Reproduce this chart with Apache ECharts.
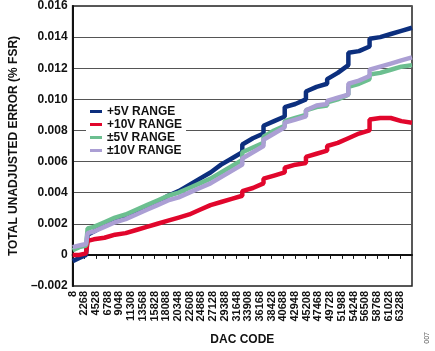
<!DOCTYPE html>
<html>
<head>
<meta charset="utf-8">
<script src="https://cdn.jsdelivr.net/npm/echarts@6/dist/echarts.min.js"></script>
<style>
html, body { margin: 0; padding: 0; background: #fff; }
#chart { width: 435px; height: 351px; }
</style>
</head>
<body>
<div id="chart"></div>
<script>
var codes = [8,1300,2600,2900,4096,6144,8192,10240,12288,14336,16384,18432,20480,22528,24576,26624,28672,30720,32767,32768,34816,36863,36864,38912,40959,40960,43008,45055,45056,47104,49151,49152,51200,53247,53248,55296,57343,57344,59392,61440,63488,65535];

var plus5 = [-0.0004,-0.0002,0.0000,0.0013,0.0015,0.0019,0.0022,0.0025,0.0028,0.0031,0.0034,0.0038,0.0041,0.0045,0.0049,0.0053,0.0058,0.0062,0.0066,0.0071,0.0075,0.0078,0.0083,0.0086,0.0089,0.0095,0.0097,0.0100,0.0105,0.0108,0.0110,0.0113,0.0117,0.0122,0.0130,0.0131,0.0134,0.0139,0.0140,0.0142,0.0144,0.0146];
var plus10 = [0.0000,0.0000,0.0001,0.0009,0.0010,0.0011,0.0013,0.0014,0.0016,0.0018,0.0020,0.0022,0.0024,0.0026,0.0029,0.0032,0.0034,0.0036,0.0038,0.0041,0.0043,0.0046,0.0049,0.0051,0.0053,0.0056,0.0058,0.0059,0.0063,0.0065,0.0067,0.0070,0.0072,0.0075,0.0075,0.0078,0.0080,0.0087,0.0088,0.0088,0.0086,0.0085];
var pm5 = [0.0003,0.0005,0.0006,0.0017,0.0018,0.0021,0.0024,0.0026,0.0029,0.0032,0.0035,0.0038,0.0040,0.0043,0.0046,0.0049,0.0053,0.0057,0.0061,0.0066,0.0069,0.0072,0.0076,0.0080,0.0083,0.0086,0.0088,0.0090,0.0093,0.0095,0.0096,0.0098,0.0100,0.0103,0.0108,0.0110,0.0113,0.0116,0.0117,0.0119,0.0121,0.0122];
var pm10 = [0.0005,0.0006,0.0007,0.0014,0.0015,0.0018,0.0021,0.0023,0.0026,0.0029,0.0032,0.0035,0.0037,0.0040,0.0043,0.0046,0.0050,0.0054,0.0058,0.0062,0.0066,0.0070,0.0074,0.0078,0.0082,0.0085,0.0087,0.0089,0.0093,0.0096,0.0097,0.0099,0.0101,0.0103,0.0110,0.0112,0.0115,0.0119,0.0121,0.0123,0.0125,0.0127];

var xTicks = [8,2268,4528,6788,9048,11308,13568,15828,18088,20348,22608,24868,27128,29388,31648,33908,36168,38428,40688,42948,45208,47468,49728,51988,54248,56508,58768,61028,63288];

var names = ['+5V RANGE', '+10V RANGE', '\u00b15V RANGE', '\u00b110V RANGE'];
var colors = ['#0c2f7e', '#e1062c', '#6cbf90', '#ab9fd4'];

var font = '"Liberation Sans", Arial, sans-serif';

function pairs(vals) {
    return codes.map(function (c, i) { return [c, vals[i]]; });
}

var myChart = echarts.init(document.getElementById('chart'));
var option = {
    animation: false,
    textStyle: { fontFamily: font },
    grid: {
        left: 58, right: 23, top: 6, bottom: 63,
        show: true, borderColor: '#222', borderWidth: 1.5
    },
    legend: {
        orient: 'vertical',
        left: 86, top: 104,
        data: names,
        icon: 'rect',
        itemWidth: 12, itemHeight: 3, itemGap: 0,
        padding: [1, 4, 2, 4],
        backgroundColor: '#fff',
        textStyle: { fontSize: 12, fontWeight: 'bold', color: '#111', lineHeight: 13, fontFamily: font }
    },
    xAxis: {
        type: 'value',
        min: 0, max: 65535,
        name: 'DAC CODE',
        nameLocation: 'middle',
        nameGap: 48,
        nameTextStyle: { fontSize: 12, fontWeight: 'bold', color: '#111' },
        axisLine: { lineStyle: { color: '#111', width: 2 } },
        axisTick: { show: true, customValues: xTicks, length: 4, lineStyle: { color: '#111' } },
        axisLabel: {
            customValues: xTicks, rotate: 90, margin: 5,
            showMinLabel: true, showMaxLabel: true, hideOverlap: false,
            fontSize: 11, fontWeight: 'bold', color: '#111',
            formatter: function (v) { return String(v); }
        },
        splitLine: { show: false }
    },
    yAxis: {
        type: 'value',
        min: -0.002, max: 0.016, interval: 0.002,
        name: 'TOTAL UNADJUSTED ERROR (% FSR)',
        nameLocation: 'middle',
        nameGap: 40,
        nameTextStyle: { fontSize: 12, fontWeight: 'bold', color: '#111' },
        axisLine: { show: true, lineStyle: { color: '#111', width: 2 } },
        axisTick: { show: false },
        axisLabel: {
            margin: 5, fontSize: 12, fontWeight: 'bold', color: '#111',
            formatter: function (v) {
                if (Math.abs(v) < 1e-9) return '0';
                return v.toFixed(3).replace('-', '\u2013');
            }
        },
        splitLine: { show: true, lineStyle: { color: '#555', width: 1.2 } }
    },
    graphic: [{
        type: 'text',
        left: 424, top: 332,
        rotation: Math.PI / 2,
        style: { text: '007', fontSize: 7, fill: '#555', fontFamily: font }
    }],
    series: [
        { name: names[0], type: 'line', data: pairs(plus5), showSymbol: false, color: colors[0], lineStyle: { width: 4.5 } },
        { name: names[1], type: 'line', data: pairs(plus10), showSymbol: false, color: colors[1], lineStyle: { width: 4.5 } },
        { name: names[2], type: 'line', data: pairs(pm5), showSymbol: false, color: colors[2], lineStyle: { width: 4.5 } },
        { name: names[3], type: 'line', data: pairs(pm10), showSymbol: false, color: colors[3], lineStyle: { width: 4.5 } }
    ]
};
myChart.setOption(option);
</script>
</body>
</html>
